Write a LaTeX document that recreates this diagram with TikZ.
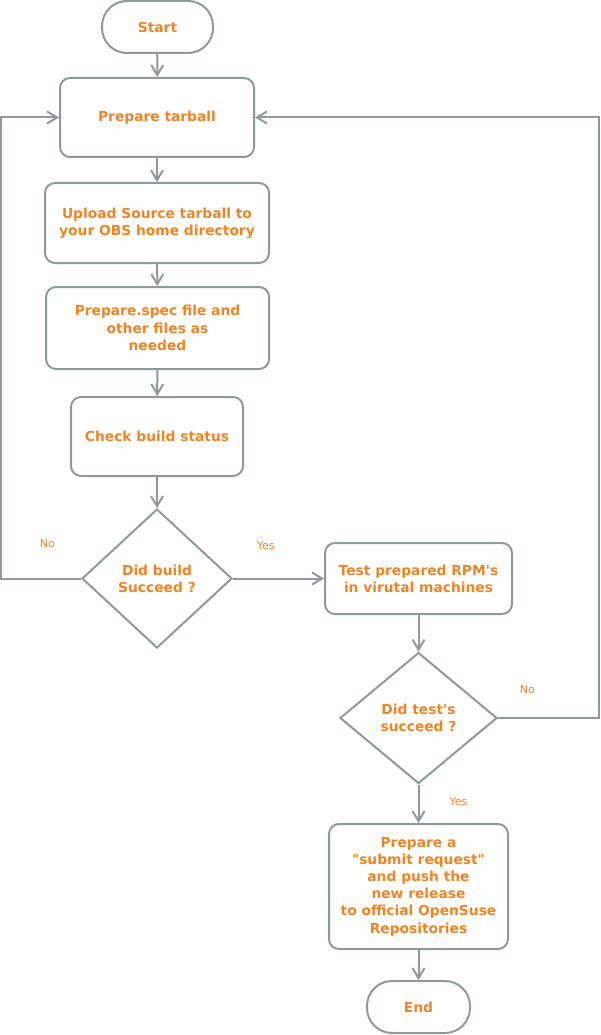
\documentclass[tikz,border=0pt]{standalone}
\usepackage{fontspec}
\setmainfont{DejaVu Sans}[Ligatures=TeXOff]
\usetikzlibrary{shapes.geometric,arrows.meta}
\definecolor{vgray}{HTML}{8E9A9A}
\definecolor{vorange}{HTML}{F08424}

\begin{document}
\begin{tikzpicture}[x=1pt, y=-1pt,
		box/.style={draw=vgray, line width=2pt, rounded corners=10pt, inner sep=0pt, align=center, text=vorange, font=\fontsize{13.8}{17.2}\selectfont\bfseries},
		terminal/.style={box, rounded corners=25pt},
		decision/.style={draw=vgray, line width=2pt, diamond, inner sep=0pt, align=center, text=vorange, font=\fontsize{13.8}{17.2}\selectfont\bfseries},
		flow/.style={draw=vgray, line width=2pt, -{Straight Barb[length=10pt, width=12pt, line width=2pt]}},
		answer/.style={text=vorange, font=\fontsize{11}{13}\selectfont}]
		\useasboundingbox (0,0) rectangle (600,1035);
		% steps
		\node[terminal, minimum width=111pt, minimum height=52pt] (start) at (157.5,27) {Start};
		\node[box, minimum width=194pt, minimum height=79pt] (tarball) at (157,117.5) {Prepare tarball};
		\node[box, minimum width=224pt, minimum height=80pt] (upload) at (157,223) {Upload Source tarball to\\your OBS home directory};
		\node[box, minimum width=223pt, minimum height=82pt] (spec) at (157.5,328) {Prepare.spec file and\\other files as\\needed};
		\node[box, minimum width=172pt, minimum height=79pt] (check) at (157,436.5) {Check build status};
		\node[decision, minimum width=150pt, minimum height=139pt] (build) at (157,578.5) {Did build\\Succeed ?};
		\node[box, minimum width=187pt, minimum height=71pt] (test) at (418.5,578.5) {Test prepared RPM's\\in virutal machines};
		\node[decision, minimum width=157pt, minimum height=131pt] (tests) at (418.5,718) {Did test's\\succeed ?};
		\node[box, minimum width=179pt, minimum height=125pt] (release) at (418.5,886.5) {Prepare a\\"submit request"\\and push the\\new release\\to official OpenSuse\\Repositories};
		\node[terminal, minimum width=103pt, minimum height=52pt] (end) at (418.5,1007) {End};
		\coordinate (leftrail) at (1,0);
		\coordinate (rightrail) at (599,0);
		% connectors
		\draw[flow] (start) -- (tarball);
		\draw[flow] (tarball) -- (upload);
		\draw[flow] (upload) -- (spec);
		\draw[flow] (spec) -- (check);
		\draw[flow] (check) -- (build);
		\draw[flow] (build.east) -- node[answer, pos=0.36, yshift=33pt] {Yes} (test.west);
		\draw[flow] (build.west) -- node[answer, pos=0.42, yshift=35pt] {No} (build.west -| leftrail) |- (tarball.west);
		\draw[flow] (test) -- (tests);
		\draw[flow] (tests.east) -- node[answer, pos=0.29, yshift=28pt] {No} (tests.east -| rightrail) |- (tarball.east);
		\draw[flow] (tests.south) -- node[answer, pos=0.45, xshift=40pt] {Yes} (release.north);
		\draw[flow] (release) -- (end);
	\end{tikzpicture}
\end{document}
